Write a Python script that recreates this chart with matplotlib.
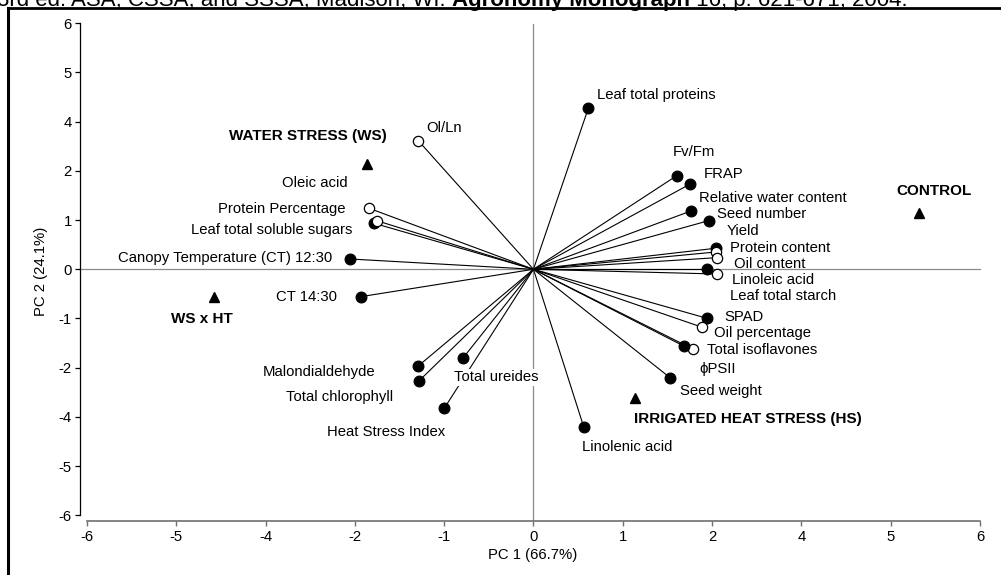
import matplotlib
matplotlib.use('Agg')
import matplotlib.pyplot as plt
from matplotlib.lines import Line2D

plt.rcParams['font.family'] = ['Liberation Sans', 'DejaVu Sans']

# ---------------- data (positions along the printed tick scale) ----------------
var_names = ['Leaf total proteins', 'Fv/Fm', 'FRAP', 'Relative water content',
             'Seed number', 'Yield', 'Protein content', 'Oil content',
             'Leaf total starch', 'Linoleic acid', 'SPAD', 'Oil percentage',
             'Total isoflavones', '\u03d5PSII', 'Seed weight', 'Linolenic acid',
             'Total ureides', 'Heat Stress Index', 'Total chlorophyll',
             'Malondialdehyde', 'CT 14:30', 'Canopy Temperature (CT) 12:30',
             'Leaf total soluble sugars', 'Oleic acid', 'Protein Percentage', 'Ol/Ln']
var_pc1 = [0.614, 1.604, 1.756, 1.764, 1.962, 2.040, 2.047, 2.052, 1.940, 2.052,
           1.943, 1.890, 1.790, 1.682, 1.529, 0.562, -0.786, -0.999, -1.279,
           -1.290, -1.935, -2.055, -1.786, -1.756, -1.842, -1.290]
var_pc2 = [3.272, 1.902, 1.734, 1.185, 0.988, 0.427, 0.352, 0.236, 0.000, -0.096,
           -0.996, -1.179, -1.626, -1.559, -2.203, -3.199, -1.797, -2.825, -2.264,
           -1.965, -0.557, 0.209, 0.935, 0.988, 1.240, 2.614]
var_open = [False, False, False, False, False, False, True, True, False, True,
            False, True, True, False, False, False, False, False, False,
            False, False, False, False, True, True, True]

trt_names = ['WATER STRESS (WS)', 'CONTROL', 'IRRIGATED HEAT STRESS (HS)', 'WS x HT']
trt_pc1 = [-1.861, 4.317, 1.137, -3.574]
trt_pc2 = [2.140, 1.138, -2.622, -0.557]

tick_pos = [-5, -4, -3, -2, -1, 0, 1, 2, 3, 4, 5]
x_tick_labels = ['-6', '-5', '-4', '-2', '-1', '0', '1', '2', '4', '5', '6']
y_tick_labels = ['-6', '-5', '-4', '-2', '-1', '0', '1', '2', '4', '5', '6']

x_title = 'PC 1 (66.7%)'
y_title = 'PC 2 (24.1%)'

# ---------------- label layout (offsets in pixels: dx, dy up, alignment) ----------------
var_label_layout = {
    'Leaf total proteins': (8.7, 13.3, 'left'),
    'Fv/Fm': (-3.7, 23.7, 'left'),
    'FRAP': (13.7, 10, 'left'),
    'Relative water content': (8, 13, 'left'),
    'Seed number': (8.3, 6.7, 'left'),
    'Yield': (11.3, 17.6, 'left'),
    'Protein content': (13.7, 4, 'left'),
    'Oil content': (17.3, -6.3, 'left'),
    'Leaf total starch': (23.3, -26.7, 'left'),
    'Linoleic acid': (15.3, -5.7, 'left'),
    'SPAD': (17, 1.6, 'left'),
    'Oil percentage': (12, -5.7, 'left'),
    'Total isoflavones': (13.4, -0.7, 'left'),
    '\u03d5PSII': (15.3, -23.3, 'left'),
    'Seed weight': (10, -13.3, 'left'),
    'Linolenic acid': (-1.7, -20, 'left'),
    'Total ureides': (-9.3, -19.6, 'left'),
    'Heat Stress Index': (0.7, -23.4, 'right'),
    'Total chlorophyll': (-26, -16, 'right'),
    'Malondialdehyde': (-43.3, -5.7, 'right'),
    'CT 14:30': (-23.4, 0, 'right'),
    'Canopy Temperature (CT) 12:30': (-17.3, 0.7, 'right'),
    'Leaf total soluble sugars': (-21.7, -6.7, 'right'),
    'Oleic acid': (-29, 38, 'right'),
    'Protein Percentage': (-23, -0.7, 'right'),
    'Ol/Ln': (7.7, 13, 'left'),
}
trt_label_layout = {
    'WATER STRESS (WS)': (19.4, 28.3, 'right'),
    'CONTROL': (-23, 22.3, 'left'),
    'IRRIGATED HEAT STRESS (HS)': (-1, -20.7, 'left'),
    'WS x HT': (-12.6, -22.6, 'center'),
}

FS = 10.7
W, H = 1001, 575
fig = plt.figure(figsize=(W / 100, H / 100), dpi=100)

# axes placement (pixel geometry)
ax_left_px, ax_right_px, ax_bottom_px, ax_top_px = 80, 988.9, 521, 20.8
ax = fig.add_axes([ax_left_px / W, (H - ax_bottom_px) / H,
                   (ax_right_px - ax_left_px) / W, (ax_bottom_px - ax_top_px) / H])
ax.set_xlim(-5.078, 5.1)
ax.set_ylim(-5.116, 5.05)

# reference lines through origin
ax.axhline(0, xmin=0, xmax=(980 - ax_left_px) / (ax_right_px - ax_left_px),
           color='#8c8c8c', lw=0.9, zorder=1)
ax.axvline(0, ymin=0, ymax=(ax_bottom_px - 24) / (ax_bottom_px - ax_top_px),
           color='#8c8c8c', lw=0.9, zorder=1)

# vectors and markers
for name, x, y, op in zip(var_names, var_pc1, var_pc2, var_open):
    ax.plot([0, x], [0, y], color='black', lw=0.8, zorder=2, solid_capstyle='butt')
    ax.plot([x], [y], marker='o', ms=7.4 if op else 7.7,
            mfc='white' if op else 'black', mec='black', mew=0.9, zorder=3)
    dx, dy, ha = var_label_layout[name]
    kw = {}
    if name == 'Total ureides':
        kw['bbox'] = dict(fc='white', ec='none', pad=1.0)
    ax.annotate(name, (x, y), xytext=(dx, dy), textcoords='offset pixels',
                ha=ha, va='center', fontsize=FS, zorder=4, **kw)

for name, x, y in zip(trt_names, trt_pc1, trt_pc2):
    ax.plot([x], [y], marker='^', ms=7.4, color='black', zorder=3, lw=0)
    dx, dy, ha = trt_label_layout[name]
    ax.annotate(name, (x, y), xytext=(dx, dy), textcoords='offset pixels',
                ha=ha, va='center', fontsize=11, fontweight='bold', zorder=4)

# spines / ticks
for s in ('top', 'right'):
    ax.spines[s].set_visible(False)
ax.spines['left'].set_bounds(-5, 5)
ax.spines['bottom'].set_bounds(-5, 5)
ax.spines['left'].set_color('black')
ax.spines['bottom'].set_color('#707070')
ax.spines['left'].set_linewidth(0.9)
ax.spines['bottom'].set_linewidth(1.2)
ax.set_xticks(tick_pos)
ax.set_xticklabels(x_tick_labels)
ax.set_yticks(tick_pos)
ax.set_yticklabels(y_tick_labels)
ax.tick_params(axis='y', direction='out', length=3.5, width=0.9, pad=2.5,
               labelsize=FS, colors='black')
ax.tick_params(axis='x', direction='out', length=3.5, width=1.0, pad=3,
               labelsize=FS, color='#707070', labelcolor='black')

ax.set_xlabel(x_title, fontsize=FS)
ax.xaxis.label.set_va('center')
ax.xaxis.set_label_coords((532.5 - ax_left_px) / (ax_right_px - ax_left_px),
                          (ax_bottom_px - 555) / (ax_bottom_px - ax_top_px))
ax.set_ylabel(y_title, fontsize=FS)
ax.yaxis.label.set_va('center')
ax.yaxis.set_label_coords((41 - ax_left_px) / (ax_right_px - ax_left_px), 0.5)

# frame around the figure panel
fig.add_artist(Line2D([7.5 / W, 7.5 / W], [0, 1 - 8.3 / H], transform=fig.transFigure,
                      color='black', lw=2.2, solid_capstyle='projecting'))
fig.add_artist(Line2D([7.5 / W, 1.0], [1 - 8.3 / H, 1 - 8.3 / H], transform=fig.transFigure,
                      color='black', lw=2.0, solid_capstyle='projecting'))

# clipped citation line at top (only its lower part is visible, as in the source)
CFS = 16
t1 = fig.text(-3 / W, 1 - 6 / H, '3rd ed. ASA, CSSA, and SSSA, Madison, WI. ',
              fontsize=CFS, ha='left', va='baseline')
t2 = fig.text(0, 0, 'Agronomy Monograph', fontsize=CFS, fontweight='bold',
              ha='left', va='baseline')
t3 = fig.text(0, 0, ' 16, p. 621-671, 2004.', fontsize=CFS, ha='left', va='baseline')
fig.canvas.draw()
r = fig.canvas.get_renderer()
bb1 = t1.get_window_extent(r)
t2.set_position((bb1.x1 / W, 1 - 6 / H))
fig.canvas.draw()
bb2 = t2.get_window_extent(r)
t3.set_position((bb2.x1 / W, 1 - 6 / H))

fig.savefig('out.png', dpi=100)
